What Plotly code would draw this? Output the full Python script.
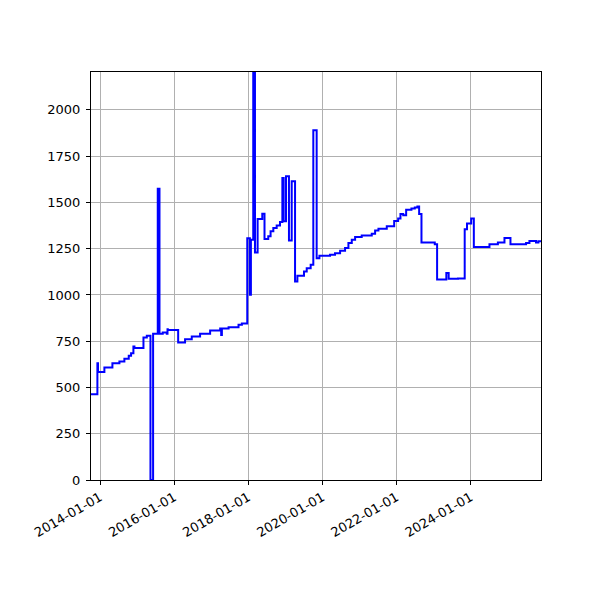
import plotly.graph_objects as go

# Values (step series).
dates = ['2013-10-04', '2013-12-06', '2013-12-12', '2014-02-13', '2014-05-03',
         '2014-07-11', '2014-08-29', '2014-10-11', '2014-11-03', '2014-11-26',
         '2014-12-06', '2015-03-05', '2015-04-07', '2015-05-13', '2015-06-08',
         '2015-07-24', '2015-08-10', '2015-09-11', '2015-10-21', '2015-10-28',
         '2015-10-31', '2016-02-10', '2016-04-18', '2016-06-23', '2016-09-13',
         '2016-12-21', '2017-03-30', '2017-04-09', '2017-04-16', '2017-06-21',
         '2017-09-27', '2017-10-30', '2017-12-22', '2018-01-17', '2018-01-27',
         '2018-02-19', '2018-03-08', '2018-04-03', '2018-05-19', '2018-06-10',
         '2018-07-17', '2018-08-09', '2018-09-05', '2018-10-08', '2018-11-10',
         '2018-12-03', '2018-12-16', '2019-01-08', '2019-02-06', '2019-03-05',
         '2019-04-07', '2019-04-30', '2019-07-04', '2019-07-31', '2019-09-08',
         '2019-10-04', '2019-11-06', '2019-12-03', '2020-03-17', '2020-05-05',
         '2020-06-24', '2020-08-12', '2020-09-14', '2020-10-17', '2020-11-19',
         '2021-01-23', '2021-05-02', '2021-06-04', '2021-07-07', '2021-09-27',
         '2021-12-09', '2022-01-17', '2022-02-09', '2022-03-08', '2022-04-06',
         '2022-05-28', '2022-06-30', '2022-07-26', '2022-08-12', '2022-09-04',
         '2023-01-13', '2023-02-05', '2023-05-07', '2023-05-30', '2023-08-30',
         '2023-11-04', '2023-11-27', '2024-01-07', '2024-02-02', '2024-07-05',
         '2024-09-26', '2024-11-30', '2025-01-28', '2025-07-01', '2025-08-03',
         '2025-10-07', '2025-10-30', '2025-11-25']
values = [463, 631, 584, 608, 631,
          640, 655, 671, 685, 721,
          713, 770, 779, 0, 790,
          1574, 790, 797, 790, 815,
          811, 743, 761, 775, 790,
          808, 819, 784, 819, 826,
          839, 846, 1307, 1001, 1298,
          2450, 1230, 1410, 1439, 1302,
          1317, 1344, 1362, 1376, 1394,
          1632, 1398, 1641, 1295, 1614,
          1073, 1104, 1127, 1145, 1163,
          1890, 1199, 1212, 1217, 1226,
          1239, 1254, 1281, 1299, 1313,
          1322, 1331, 1349, 1358, 1371,
          1400, 1413, 1437, 1431, 1460,
          1467, 1473, 1478, 1437, 1283,
          1274, 1083, 1119, 1087, 1089,
          1355, 1386, 1413, 1259, 1274,
          1283, 1308, 1274, 1281, 1292,
          1283, 1290, 1290]

x_ticks = ['2014-01-01', '2016-01-01', '2018-01-01', '2020-01-01',
           '2022-01-01', '2024-01-01']
y_ticks = [0, 250, 500, 750, 1000, 1250, 1500, 1750, 2000]

fig = go.Figure()
fig.add_trace(go.Scatter(x=dates, y=values, mode='lines', line_shape='hv',
                         line=dict(color='blue', width=2)))

axis_style = dict(showline=True, linecolor='black', linewidth=1, mirror=True,
                  showgrid=True, gridcolor='#b0b0b0', gridwidth=1,
                  ticks='outside', ticklen=4, tickcolor='black',
                  zeroline=False, tickfont=dict(family='DejaVu Sans', size=13, color='black'))

fig.update_xaxes(range=[dates[0], dates[-1]], tickvals=x_ticks, ticktext=x_ticks,
                 tickangle=-30, **axis_style)
fig.update_yaxes(range=[0, 2205], tickvals=y_ticks, ticklabelstandoff=3, **axis_style)
# the page body adds ~8px, so margins are pulled in to land the axes where the reference has them
fig.update_layout(width=600, height=600, showlegend=False,
                  plot_bgcolor='white', paper_bgcolor='white',
                  margin=dict(l=83, r=67, t=64, b=128))
fig.write_html('out.html')
